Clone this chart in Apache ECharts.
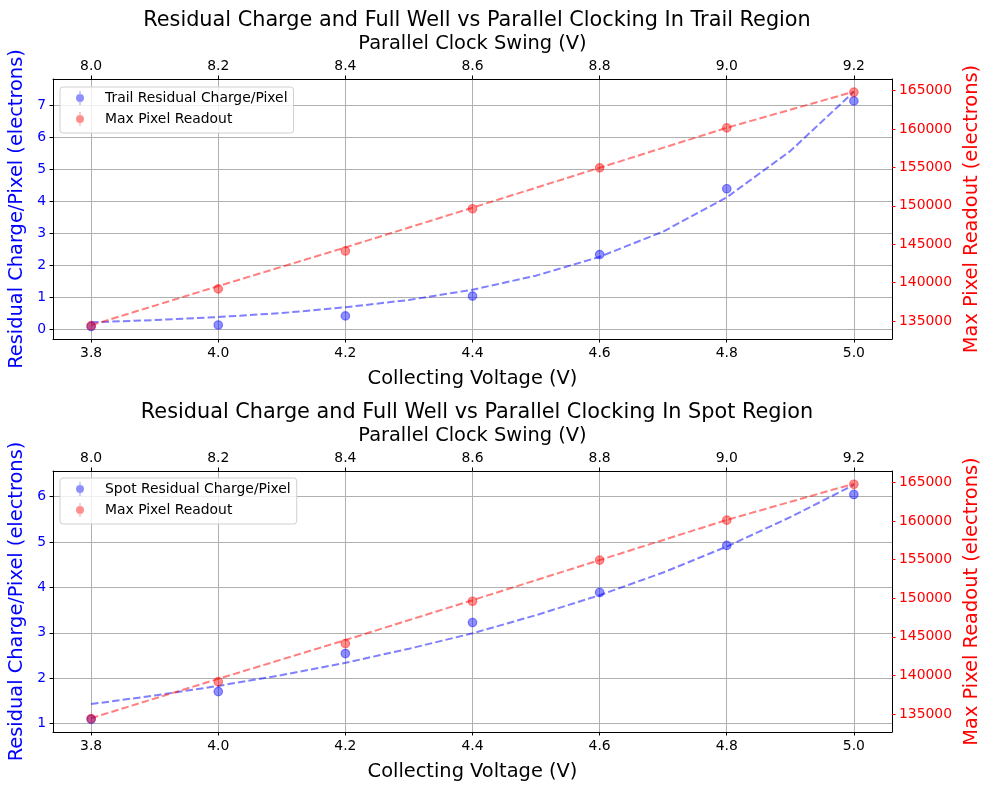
<!DOCTYPE html>
<html>
<head>
<meta charset="utf-8">
<script src="https://cdn.jsdelivr.net/npm/echarts@6/dist/echarts.min.js"></script>
<style>
html,body{margin:0;padding:0;background:#fff;}
#chart{width:989px;height:790px;}
</style>
</head>
<body>
<div id="chart"></div>
<script>
// ---- data ----
const collectingVoltage = [3.8, 4.0, 4.2, 4.4, 4.6, 4.8, 5.0];
const clockSwingTicks = [8.0, 8.2, 8.4, 8.6, 8.8, 9.0, 9.2];
const trailYTicks = [0, 1, 2, 3, 4, 5, 6, 7];
const spotYTicks = [1, 2, 3, 4, 5, 6];
const readoutTicks = [135000, 140000, 145000, 150000, 155000, 160000, 165000];

const trailResidual = [0.08, 0.125, 0.41, 1.03, 2.33, 4.39, 7.14];
const spotResidual = [1.095, 1.706, 2.544, 3.228, 3.89, 4.927, 6.05];
const maxPixelReadout = [134400, 139180, 144120, 149610, 154940, 160130, 164780];

const fitVoltage = [3.8, 3.9, 4.0, 4.1, 4.2, 4.3, 4.4, 4.5, 4.6, 4.7, 4.8, 4.9, 5.0];
const trailFit = [0.21, 0.28, 0.375, 0.50, 0.68, 0.91, 1.23, 1.67, 2.26, 3.05, 4.12, 5.57, 7.43];
const spotFit = [1.43, 1.62, 1.83, 2.07, 2.34, 2.65, 2.99, 3.39, 3.83, 4.33, 4.90, 5.55, 6.26];
const maxPixelFit = [134450, 139550, 144580, 149750, 154950, 160150, 164850];

const FONT = 'DejaVu Sans';
const zip = (a, b) => a.map((v, i) => [v, b[i]]);
// 40x14 box: invisible corner points fix the box, then an error-bar line and a marker circle in the middle
const legendIcon = 'path://M0,0h0.01v0.01h-0.01z M39.99,13.99h0.01v0.01h-0.01z M19.55,0h0.9v14h-0.9z M16,7a4,4 0 1,1 8,0a4,4 0 1,1 -8,0z';

function xBottom(gridIndex) {
  return {
    type: 'value', gridIndex, position: 'bottom', min: 3.74, max: 5.06,
    name: 'Collecting Voltage (V)', nameLocation: 'middle', nameGap: 30,
    nameTextStyle: { fontFamily: FONT, fontSize: 19.4, color: '#000' },
    axisLine: { show: true, onZero: false, lineStyle: { color: '#000', width: 1 } },
    axisTick: { show: true, length: 3.5, customValues: collectingVoltage, lineStyle: { color: '#000' } },
    axisLabel: { customValues: collectingVoltage, formatter: v => v.toFixed(1), fontFamily: FONT, fontSize: 13.9, color: '#000', margin: 7 },
    splitLine: { show: true, lineStyle: { color: '#b0b0b0', width: 1 } }
  };
}
function xTop(gridIndex) {
  return {
    type: 'value', gridIndex, position: 'top', min: 7.94, max: 9.26,
    name: 'Parallel Clock Swing (V)', nameLocation: 'middle', nameGap: 26,
    nameTextStyle: { fontFamily: FONT, fontSize: 19.4, color: '#000' },
    axisLine: { show: true, onZero: false, lineStyle: { color: '#000', width: 1 } },
    axisTick: { show: true, length: 3.5, customValues: clockSwingTicks, lineStyle: { color: '#000' } },
    axisLabel: { customValues: clockSwingTicks, formatter: v => v.toFixed(1), fontFamily: FONT, fontSize: 13.9, color: '#000', margin: 6 },
    splitLine: { show: false }
  };
}
function yLeft(gridIndex, min, max, ticks) {
  return {
    type: 'value', gridIndex, position: 'left', min, max,
    name: 'Residual Charge/Pixel (electrons)', nameLocation: 'middle', nameGap: 26,
    nameTextStyle: { fontFamily: FONT, fontSize: 19.4, color: '#0000ff' },
    axisLine: { show: true, onZero: false, lineStyle: { color: '#000', width: 1 } },
    axisTick: { show: true, length: 3.5, customValues: ticks, lineStyle: { color: '#000' } },
    axisLabel: { customValues: ticks, formatter: v => String(v), fontFamily: FONT, fontSize: 13.9, color: '#0000ff', margin: 7 },
    splitLine: { show: true, lineStyle: { color: '#b0b0b0', width: 1 } }
  };
}
function yRight(gridIndex) {
  return {
    type: 'value', gridIndex, position: 'right', min: 132660, max: 166500,
    name: 'Max Pixel Readout (electrons)', nameLocation: 'middle', nameGap: 66,
    nameTextStyle: { fontFamily: FONT, fontSize: 19.4, color: '#ff0000' },
    axisLine: { show: true, onZero: false, lineStyle: { color: '#000', width: 1 } },
    axisTick: { show: true, length: 3.5, customValues: readoutTicks, lineStyle: { color: '#ff0000' } },
    axisLabel: { customValues: readoutTicks, formatter: v => String(Math.round(v)), fontFamily: FONT, fontSize: 13.9, color: '#ff0000', margin: 7 },
    splitLine: { show: false }
  };
}
function scatter(name, xi, yi, xs, ys, color) {
  return { type: 'scatter', name, xAxisIndex: xi, yAxisIndex: yi, data: zip(xs, ys),
    symbol: 'circle', symbolSize: 8.5, itemStyle: { color, borderColor: color, borderWidth: 1.2 }, z: 3 };
}
function fitLine(name, xi, yi, xs, ys, color) {
  return { type: 'line', name, xAxisIndex: xi, yAxisIndex: yi, data: zip(xs, ys),
    showSymbol: false, symbol: 'none', smooth: false,
    lineStyle: { color, width: 2, type: [7.4, 3.2] }, z: 2 };
}
function legend(top, names) {
  return {
    left: 60, top, orient: 'vertical', itemWidth: 40, itemHeight: 14, itemGap: 7,
    padding: [4, 6, 7, 0], borderColor: '#d0d0d0', borderWidth: 1, borderRadius: 3,
    backgroundColor: 'rgba(255,255,255,0.8)',
    textStyle: { fontFamily: FONT, fontSize: 13.9, color: '#000' },
    itemStyle: { borderWidth: 0 },
    data: names.map(n => ({ name: n, icon: legendIcon, itemStyle: { borderWidth: 0 } }))
  };
}

const option = {
  animation: false,
  backgroundColor: '#fff',
  title: [
    { text: 'Residual Charge and Full Well vs Parallel Clocking In Trail Region', left: 472, top: 5, textAlign: 'center',
      textStyle: { fontFamily: FONT, fontSize: 20.8, fontWeight: 'normal', color: '#000' } },
    { text: 'Residual Charge and Full Well vs Parallel Clocking In Spot Region', left: 472, top: 397, textAlign: 'center',
      textStyle: { fontFamily: FONT, fontSize: 20.8, fontWeight: 'normal', color: '#000' } }
  ],
  grid: [
    { left: 53, right: 97, top: 79, height: 260, outerBoundsMode: 'none', containLabel: false },
    { left: 53, right: 97, top: 471, height: 261, outerBoundsMode: 'none', containLabel: false }
  ],
  xAxis: [xBottom(0), xTop(0), xBottom(1), xTop(1)],
  yAxis: [yLeft(0, -0.313, 7.826, trailYTicks), yRight(0), yLeft(1, 0.815, 6.567, spotYTicks), yRight(1)],
  legend: [
    legend(87, ['Trail Residual Charge/Pixel', 'Max Pixel Readout']),
    legend(478, ['Spot Residual Charge/Pixel', 'Max Pixel Readout'])
  ],
  series: [
    scatter('Trail Residual Charge/Pixel', 0, 0, collectingVoltage, trailResidual, 'rgba(0,0,255,0.55)'),
    fitLine('trail fit', 0, 0, fitVoltage, trailFit, 'rgba(0,0,255,0.5)'),
    scatter('Max Pixel Readout', 0, 1, collectingVoltage, maxPixelReadout, 'rgba(255,0,0,0.55)'),
    fitLine('readout fit top', 0, 1, collectingVoltage, maxPixelFit, 'rgba(255,0,0,0.5)'),
    scatter('Spot Residual Charge/Pixel', 2, 2, collectingVoltage, spotResidual, 'rgba(0,0,255,0.55)'),
    fitLine('spot fit', 2, 2, fitVoltage, spotFit, 'rgba(0,0,255,0.5)'),
    scatter('Max Pixel Readout', 2, 3, collectingVoltage, maxPixelReadout, 'rgba(255,0,0,0.55)'),
    fitLine('readout fit bottom', 2, 3, collectingVoltage, maxPixelFit, 'rgba(255,0,0,0.5)')
  ]
};
const chart = echarts.init(document.getElementById('chart'), null, { renderer: 'canvas' });
chart.setOption(option);
</script>
</body>
</html>
